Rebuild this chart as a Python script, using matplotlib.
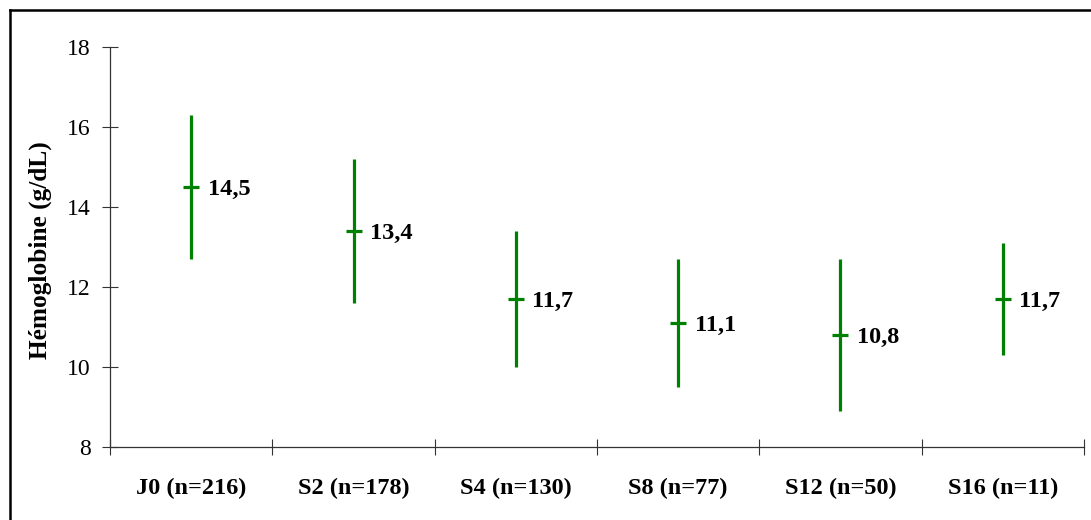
import matplotlib
matplotlib.use("Agg")
import matplotlib.pyplot as plt
from matplotlib.lines import Line2D

plt.rcParams['font.family'] = ['Liberation Serif', 'DejaVu Serif']

categories = ["J0 (n=216)", "S2 (n=178)", "S4 (n=130)", "S8 (n=77)", "S12 (n=50)", "S16 (n=11)"]
means = [14.5, 13.4, 11.7, 11.1, 10.8, 11.7]
lower = [12.7, 11.6, 10.0, 9.5, 8.9, 10.3]
upper = [16.3, 15.2, 13.4, 12.7, 12.7, 13.1]
value_labels = ["14,5", "13,4", "11,7", "11,1", "10,8", "11,7"]

W, H = 1091, 520
fig = plt.figure(figsize=(W / 100, H / 100), dpi=100)
ax = fig.add_axes([110 / W, 73 / H, (1084 - 110) / W, 400 / H])

green = "#008000"
xs = list(range(len(categories)))
yerr = [[m - lo for m, lo in zip(means, lower)], [u - m for m, u in zip(means, upper)]]
ax.errorbar(xs, means, yerr=yerr, fmt='none', ecolor=green, elinewidth=2.3, capsize=0)
ax.plot(xs, means, linestyle='none', marker='_', markersize=12, markeredgewidth=2.3, color=green)

for x, m, lab in zip(xs, means, value_labels):
    ax.annotate(lab, (x, m), xytext=(12, -2), textcoords='offset points',
                ha='left', va='center', fontsize=17.5, fontweight='bold', color='black')

ax.set_xlim(-0.5, len(categories) - 0.5)
ax.set_ylim(8, 18)
ax.set_yticks([8, 10, 12, 14, 16, 18])
ax.set_yticklabels(["8", "10", "12", "14", "16", "18"], fontsize=17)

# category boundaries as major ticks, labels centered in each slot
ax.set_xticks([i - 0.5 for i in range(len(categories) + 1)])
ax.set_xticklabels([])
ax.set_xticks(xs, minor=True)
ax.set_xticklabels(categories, minor=True, fontsize=17.5, fontweight='bold')
ax.tick_params(axis='x', which='minor', length=0, pad=22)
ax.tick_params(axis='x', which='major', direction='inout', length=12, width=0.8, color='#333333')
ax.tick_params(axis='y', which='major', direction='inout', length=11.5, width=0.8, color='#333333', pad=8)

for s in ['top', 'right']:
    ax.spines[s].set_visible(False)
for s in ['left', 'bottom']:
    ax.spines[s].set_color('#333333')
    ax.spines[s].set_linewidth(0.9)

# y-axis title
fig.text(40 / W, 1 - 250 / H, "Hémoglobine (g/dL)", rotation=90, ha='center', va='center',
         fontsize=18.3, fontweight='bold')

# outer frame: left and top edges
fig.add_artist(Line2D([9.5 / W, 9.5 / W], [0, 1 - 9.5 / H], transform=fig.transFigure, color='black', linewidth=1.8))
fig.add_artist(Line2D([9.5 / W, 1], [1 - 9.5 / H, 1 - 9.5 / H], transform=fig.transFigure, color='black', linewidth=1.8))

fig.savefig("out.png", dpi=100)
